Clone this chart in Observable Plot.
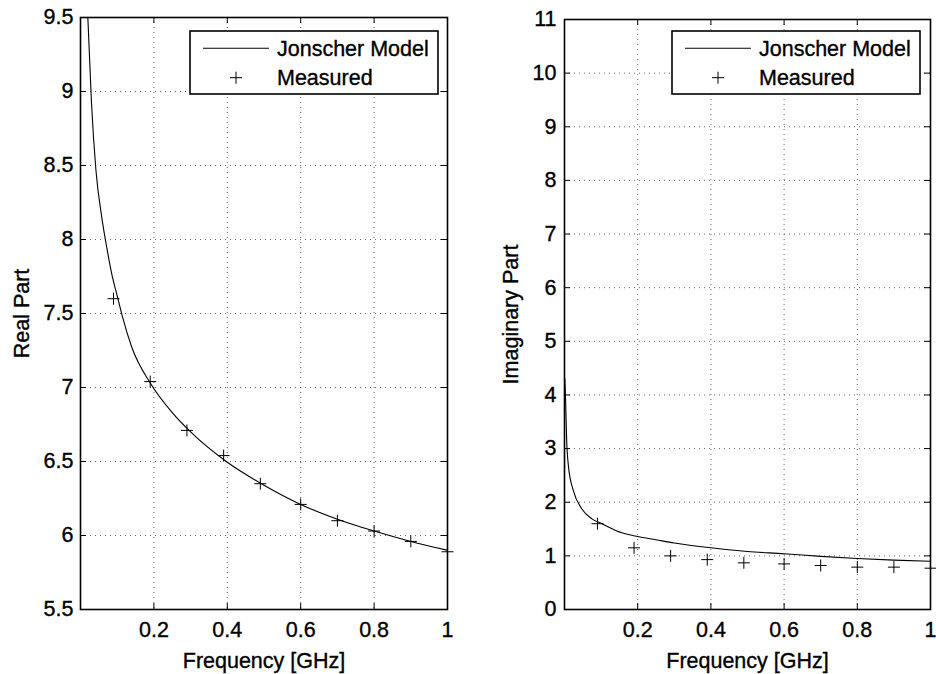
<!DOCTYPE html>
<html>
<head>
<meta charset="utf-8">
<script src="https://cdn.jsdelivr.net/npm/d3@7"></script>
<script src="https://cdn.jsdelivr.net/npm/@observablehq/plot@0.6"></script>
<style>
  body { margin: 0; background: #fff; }
  #wrap { position: relative; width: 936px; height: 674px; background: #fff; font-family: "Liberation Sans", Arial, sans-serif; }
  #wrap text { stroke: #000; stroke-width: 0.35px; }
  .panel { position: absolute; top: 0; }
  .legend { position: absolute; }
</style>
</head>
<body>
<div id="wrap"></div>
<script>
// ---- data ----
const freqTicks = [0.2, 0.4, 0.6, 0.8, 1];
const realTicks = [5.5, 6, 6.5, 7, 7.5, 8, 8.5, 9, 9.5];
const imagTicks = [0, 1, 2, 3, 4, 5, 6, 7, 8, 9, 10, 11];

const freqMeasured = [0.09, 0.19, 0.29, 0.39, 0.49, 0.60, 0.70, 0.80, 0.90, 1.00];
const realMeasured = [7.60, 7.04, 6.71, 6.54, 6.35, 6.21, 6.10, 6.03, 5.96, 5.89];
const imagMeasured = [1.60, 1.15, 1.00, 0.93, 0.87, 0.85, 0.82, 0.79, 0.79, 0.77];

const modelFreqReal = [0.02, 0.03, 0.042, 0.058, 0.072, 0.085, 0.102, 0.113, 0.14, 0.19, 0.25, 0.30, 0.40, 0.50, 0.60, 0.70, 0.80, 0.90, 1.00];
const modelReal     = [9.50, 8.92, 8.47, 8.15, 7.94, 7.77, 7.60, 7.49, 7.27, 7.03, 6.83, 6.70, 6.495, 6.34, 6.21, 6.11, 6.03, 5.96, 5.90];

const modelFreqImag = [0.001, 0.003, 0.006, 0.011, 0.024, 0.047, 0.075, 0.102, 0.157, 0.20, 0.25, 0.30, 0.40, 0.50, 0.60, 0.70, 0.80, 0.90, 1.00];
const modelImag     = [4.30, 3.90, 3.15, 2.66, 2.22, 1.88, 1.69, 1.60, 1.43, 1.36, 1.30, 1.24, 1.15, 1.08, 1.04, 0.99, 0.95, 0.92, 0.90];

const legendLabels = ["Jonscher Model", "Measured"];
const xLabel = "Frequency [GHz]";

// ---- rendering ----
const FONT = "Liberation Sans, Arial, Helvetica, sans-serif";
const FS = 21.5;
const plusSymbol = {
  draw(context, size) {
    const r = Math.sqrt(size / Math.PI);
    context.moveTo(-r, 0); context.lineTo(r, 0);
    context.moveTo(0, -r); context.lineTo(0, r);
  }
};

function panel(o) {
  const measured = freqMeasured.map((f, i) => ({f, v: o.measY[i]}));
  const model = o.modelX.map((f, i) => ({f, v: o.modelY[i]}));
  const H = 674 - o.marginTop - o.marginBottom;
  const W = o.width - o.marginLeft - o.marginRight;
  const grid = {stroke: "#666", strokeDasharray: "1,4", strokeWidth: 1};
  return Plot.plot({
    width: o.width, height: 674,
    marginLeft: o.marginLeft, marginRight: o.marginRight,
    marginTop: o.marginTop, marginBottom: o.marginBottom,
    style: {fontFamily: FONT, fontSize: FS + "px", color: "#000", background: "transparent", overflow: "visible"},
    x: {domain: [0, 1]},
    y: {domain: o.yDomain},
    marks: [
      Plot.ruleX(freqTicks, {x: d => d, ...grid}),
      Plot.ruleY(o.yTicks, {y: d => d, ...grid}),
      Plot.tickX(freqTicks, {x: d => d, insetTop: H - 6, stroke: "#000"}),
      Plot.tickX(freqTicks, {x: d => d, insetBottom: H - 6, stroke: "#000"}),
      Plot.tickY(o.yTicks, {y: d => d, insetRight: W - 6, stroke: "#000"}),
      Plot.tickY(o.yTicks, {y: d => d, insetLeft: W - 6, stroke: "#000"}),
      Plot.axisX(freqTicks, {tickSize: 0, tickPadding: 12, tickFormat: d => String(d),
        label: xLabel, labelAnchor: "center", labelOffset: 58, labelArrow: "none", fontSize: FS}),
      Plot.axisY(o.yTicks, {tickSize: 0, tickPadding: o.tickPadY, tickFormat: d => String(d),
        label: o.yLabel, labelAnchor: "center", labelOffset: o.labelOffsetY, labelArrow: "none", fontSize: FS}),
      Plot.line(model, {x: "f", y: "v", curve: "monotone-x", stroke: "#000", strokeWidth: 1.1, clip: true}),
      Plot.dot(measured, {x: "f", y: "v", symbol: plusSymbol, r: 6, fill: "none", stroke: "#000", strokeWidth: 1}),
      Plot.frame({stroke: "#000", strokeWidth: 1.6})
    ]
  });
}

function legend(left, top) {
  const ns = "http://www.w3.org/2000/svg";
  const w = 248, h = 63;
  const svg = document.createElementNS(ns, "svg");
  svg.setAttribute("width", w + 4); svg.setAttribute("height", h + 4);
  svg.setAttribute("class", "legend");
  svg.style.left = (left - 2) + "px"; svg.style.top = (top - 2) + "px";
  const g = document.createElementNS(ns, "g");
  g.setAttribute("transform", "translate(2,2)");
  svg.appendChild(g);
  const add = (tag, attrs, text) => {
    const el = document.createElementNS(ns, tag);
    for (const k in attrs) el.setAttribute(k, attrs[k]);
    if (text) el.textContent = text;
    g.appendChild(el);
    return el;
  };
  add("rect", {x: 0, y: 0, width: w, height: h, fill: "#fff", stroke: "#000", "stroke-width": 1.6});
  add("line", {x1: 13, x2: 79, y1: 17.3, y2: 17.3, stroke: "#000", "stroke-width": 1.1});
  add("path", {d: "M40,46.7h12M46,40.7v12", stroke: "#000", "stroke-width": 1, fill: "none"});
  add("text", {x: 87, y: 25, "font-family": FONT, "font-size": FS, fill: "#000"}, legendLabels[0]);
  add("text", {x: 87, y: 54, "font-family": FONT, "font-size": FS, fill: "#000"}, legendLabels[1]);
  return svg;
}

const wrap = document.getElementById("wrap");

const left = panel({
  measY: realMeasured, modelX: modelFreqReal, modelY: modelReal,
  yDomain: [5.5, 9.5], yTicks: realTicks, yLabel: "Real Part",
  width: 468, marginLeft: 80, marginRight: 21, marginTop: 17, marginBottom: 65,
  labelOffsetY: 67, tickPadY: 7
});
left.classList.add("panel"); left.style.left = "0px";
wrap.appendChild(left);

const right = panel({
  measY: imagMeasured, modelX: modelFreqImag, modelY: modelImag,
  yDomain: [0, 11], yTicks: imagTicks, yLabel: "Imaginary Part",
  width: 468, marginLeft: 96, marginRight: 6, marginTop: 19, marginBottom: 65,
  labelOffsetY: 62, tickPadY: 8
});
right.classList.add("panel"); right.style.left = "468px";
wrap.appendChild(right);

wrap.appendChild(legend(190, 31));
wrap.appendChild(legend(672, 31));
</script>
</body>
</html>
